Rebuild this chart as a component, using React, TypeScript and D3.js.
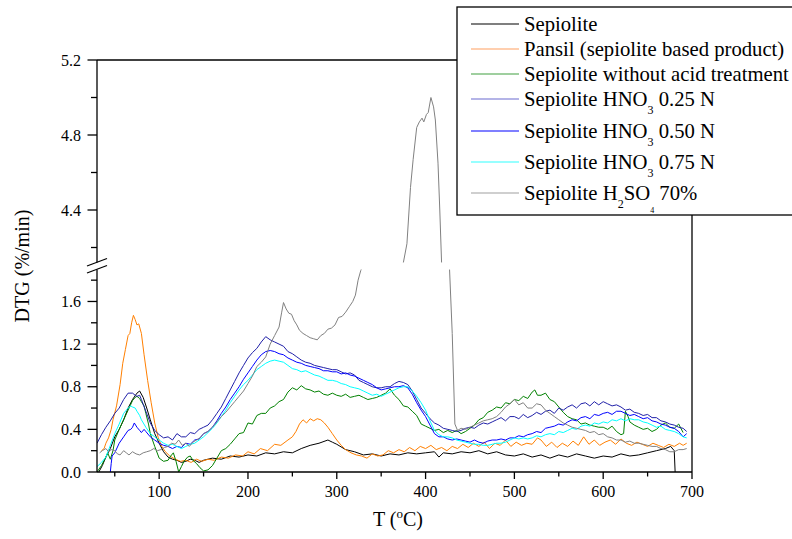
import React from 'react';
import * as d3 from 'd3';

// ---------- data (T in °C, DTG in %/min) ----------
const sepiolite: [number, number][] = [[32,0],[36,0.06],[40,0.14],[45,0.22],[50,0.33],[55,0.4],[60,0.49],[65,0.6],[70,0.68],[75,0.74],[78,0.76],[82,0.7],[86,0.6],[90,0.49],[95,0.36],[100,0.27],[105,0.19],[110,0.14],[115,0.12],[120,0.11],[125,0.09],[130,0.1],[135,0.12],[140,0.11],[145,0.09],[150,0.11],[160,0.13],[170,0.12],[180,0.15],[190,0.14],[200,0.16],[210,0.15],[220,0.18],[230,0.17],[240,0.19],[250,0.18],[260,0.22],[270,0.25],[280,0.27],[290,0.3],[295,0.28],[300,0.26],[310,0.21],[320,0.19],[330,0.16],[340,0.17],[350,0.15],[360,0.17],[370,0.16],[380,0.18],[390,0.17],[400,0.18],[410,0.19],[415,0.14],[420,0.18],[430,0.17],[440,0.19],[450,0.18],[460,0.2],[470,0.17],[480,0.19],[490,0.16],[500,0.15],[510,0.17],[520,0.14],[530,0.16],[540,0.13],[550,0.16],[560,0.14],[570,0.17],[580,0.15],[590,0.13],[600,0.15],[610,0.14],[620,0.17],[630,0.15],[640,0.16],[650,0.18],[660,0.2],[670,0.22],[676,0.24],[680,0.2],[681,0.0]];

const pansil: [number, number][] = [[35,0.2],[38,0.22],[40,0.27],[43,0.32],[46,0.4],[48,0.49],[52,0.62],[56,0.82],[59,1.02],[62,1.15],[65,1.28],[67,1.3],[69,1.4],[71,1.47],[73,1.43],[75,1.38],[77,1.39],[80,1.3],[83,1.1],[87,0.86],[91,0.65],[95,0.46],[99,0.32],[103,0.24],[107,0.19],[112,0.15],[118,0.12],[124,0.1],[130,0.11],[136,0.09],[142,0.12],[148,0.1],[155,0.12],[162,0.11],[170,0.14],[178,0.13],[186,0.16],[194,0.15],[200,0.19],[207,0.17],[214,0.22],[222,0.2],[230,0.26],[237,0.25],[245,0.3],[250,0.33],[254,0.38],[258,0.45],[262,0.49],[266,0.46],[270,0.5],[274,0.48],[278,0.5],[282,0.49],[286,0.46],[290,0.42],[295,0.36],[300,0.3],[305,0.25],[310,0.21],[316,0.18],[322,0.16],[328,0.15],[334,0.13],[340,0.17],[346,0.15],[352,0.16],[358,0.2],[364,0.18],[370,0.21],[376,0.19],[382,0.23],[388,0.2],[394,0.24],[400,0.22],[406,0.25],[412,0.21],[418,0.23],[424,0.2],[430,0.24],[436,0.22],[442,0.26],[448,0.23],[454,0.27],[460,0.24],[466,0.28],[472,0.22],[478,0.27],[484,0.25],[490,0.3],[496,0.24],[502,0.28],[508,0.25],[514,0.27],[520,0.26],[526,0.32],[530,0.3],[536,0.24],[542,0.28],[548,0.23],[554,0.27],[560,0.24],[566,0.29],[572,0.25],[578,0.33],[584,0.26],[590,0.3],[596,0.25],[602,0.28],[608,0.3],[614,0.26],[620,0.31],[626,0.27],[632,0.25],[638,0.28],[644,0.26],[650,0.24],[656,0.27],[662,0.25],[668,0.23],[674,0.26],[680,0.24],[686,0.27],[690,0.25],[694,0.27]];

const noAcid: [number, number][] = [[30,0],[35,0.06],[40,0.14],[42,0.18],[45,0.12],[48,0.2],[50,0.3],[55,0.4],[60,0.49],[65,0.58],[70,0.67],[73,0.7],[75,0.71],[78,0.69],[80,0.66],[83,0.62],[85,0.55],[88,0.45],[90,0.36],[95,0.24],[100,0.13],[105,0.1],[110,0.11],[113,0.15],[116,0.18],[119,0.1],[122,0.0],[125,0.05],[128,0.1],[132,0.14],[135,0.15],[138,0.11],[142,0.08],[146,0.04],[150,0.01],[155,0.02],[160,0.06],[165,0.13],[170,0.2],[175,0.22],[180,0.26],[185,0.31],[190,0.36],[195,0.37],[200,0.46],[205,0.45],[210,0.53],[215,0.55],[220,0.55],[225,0.6],[230,0.62],[235,0.66],[240,0.68],[245,0.75],[250,0.79],[255,0.77],[260,0.81],[265,0.78],[270,0.77],[275,0.75],[280,0.76],[285,0.73],[290,0.72],[295,0.74],[300,0.72],[305,0.71],[310,0.73],[315,0.7],[320,0.71],[325,0.72],[330,0.7],[335,0.68],[340,0.69],[345,0.7],[350,0.72],[355,0.74],[360,0.78],[365,0.72],[370,0.68],[375,0.62],[380,0.61],[385,0.57],[390,0.53],[395,0.45],[400,0.43],[405,0.41],[410,0.39],[415,0.4],[420,0.37],[425,0.39],[430,0.37],[435,0.39],[440,0.36],[445,0.38],[450,0.41],[455,0.44],[460,0.49],[465,0.51],[470,0.56],[475,0.58],[480,0.61],[485,0.6],[490,0.65],[495,0.64],[500,0.68],[505,0.67],[510,0.71],[515,0.69],[520,0.75],[523,0.77],[526,0.72],[530,0.72],[535,0.74],[540,0.68],[545,0.66],[550,0.61],[555,0.56],[560,0.52],[565,0.5],[570,0.49],[575,0.45],[580,0.46],[585,0.44],[590,0.43],[595,0.42],[600,0.42],[605,0.4],[610,0.43],[615,0.38],[620,0.35],[623,0.36],[625,0.57],[628,0.52],[630,0.47],[635,0.44],[640,0.42],[645,0.4],[650,0.41],[655,0.38],[660,0.4],[665,0.44],[670,0.46],[675,0.42],[680,0.41],[685,0.45],[690,0.37]];

const hno025: [number, number][] = [[30,0.27],[35,0.35],[40,0.42],[45,0.48],[50,0.55],[55,0.6],[60,0.68],[65,0.74],[70,0.74],[73,0.72],[75,0.71],[78,0.72],[80,0.68],[85,0.57],[90,0.46],[95,0.39],[100,0.35],[105,0.32],[110,0.33],[115,0.3],[120,0.36],[125,0.33],[130,0.33],[135,0.37],[140,0.36],[145,0.4],[150,0.42],[155,0.44],[160,0.49],[165,0.55],[170,0.61],[175,0.69],[180,0.77],[185,0.85],[190,0.93],[195,1.0],[200,1.07],[205,1.12],[210,1.16],[215,1.22],[220,1.27],[225,1.24],[230,1.22],[235,1.2],[240,1.18],[245,1.13],[250,1.11],[255,1.08],[260,1.05],[265,1.03],[270,1.02],[275,1.0],[280,0.99],[285,0.98],[290,0.97],[295,0.96],[300,0.96],[305,0.94],[310,0.92],[315,0.93],[320,0.91],[325,0.86],[330,0.84],[335,0.82],[340,0.8],[345,0.79],[350,0.79],[355,0.8],[360,0.8],[365,0.83],[370,0.85],[375,0.84],[380,0.82],[385,0.76],[390,0.68],[395,0.6],[400,0.55],[405,0.5],[410,0.46],[415,0.44],[420,0.41],[425,0.4],[430,0.39],[435,0.38],[440,0.39],[445,0.41],[450,0.42],[455,0.41],[460,0.44],[465,0.46],[470,0.45],[475,0.47],[480,0.49],[485,0.51],[490,0.48],[495,0.52],[500,0.52],[505,0.5],[510,0.54],[515,0.51],[520,0.53],[525,0.56],[530,0.54],[535,0.57],[540,0.58],[545,0.55],[550,0.6],[555,0.58],[560,0.61],[565,0.63],[570,0.6],[575,0.64],[580,0.65],[585,0.62],[590,0.66],[595,0.63],[600,0.66],[605,0.64],[610,0.62],[615,0.63],[620,0.61],[625,0.58],[630,0.59],[635,0.56],[640,0.55],[645,0.53],[650,0.54],[655,0.51],[660,0.51],[665,0.48],[670,0.47],[675,0.45],[680,0.44],[685,0.42],[690,0.41],[694,0.38]];

const hno050: [number, number][] = [[45,0],[46,0.08],[47,0.15],[50,0.18],[55,0.27],[60,0.33],[65,0.39],[68,0.4],[70,0.42],[72,0.46],[75,0.42],[78,0.39],[80,0.37],[83,0.4],[85,0.38],[90,0.33],[95,0.3],[100,0.27],[105,0.25],[110,0.24],[115,0.22],[120,0.24],[125,0.23],[130,0.27],[135,0.26],[140,0.3],[145,0.31],[150,0.36],[155,0.38],[160,0.42],[165,0.48],[170,0.55],[175,0.61],[180,0.68],[185,0.74],[190,0.8],[195,0.87],[200,0.93],[205,0.99],[210,1.05],[215,1.1],[220,1.13],[225,1.14],[230,1.13],[235,1.11],[240,1.1],[245,1.07],[250,1.05],[255,1.03],[260,1.02],[265,1.0],[270,0.99],[275,0.98],[280,0.97],[285,0.95],[290,0.95],[295,0.94],[300,0.94],[305,0.92],[310,0.93],[315,0.91],[320,0.9],[325,0.88],[330,0.86],[335,0.84],[340,0.82],[345,0.79],[350,0.77],[355,0.78],[360,0.79],[365,0.8],[370,0.8],[375,0.81],[380,0.79],[385,0.73],[390,0.65],[395,0.58],[400,0.52],[405,0.44],[410,0.36],[415,0.33],[420,0.33],[425,0.31],[430,0.3],[435,0.31],[440,0.3],[445,0.29],[450,0.28],[455,0.3],[460,0.28],[465,0.27],[470,0.29],[475,0.3],[480,0.3],[485,0.31],[490,0.3],[495,0.32],[500,0.32],[505,0.34],[510,0.33],[515,0.35],[520,0.36],[525,0.38],[530,0.37],[535,0.41],[540,0.42],[545,0.43],[550,0.45],[555,0.44],[560,0.47],[565,0.49],[570,0.48],[575,0.51],[580,0.52],[585,0.5],[590,0.54],[595,0.53],[600,0.55],[605,0.56],[610,0.54],[615,0.57],[620,0.57],[625,0.55],[630,0.53],[635,0.54],[640,0.52],[645,0.5],[650,0.51],[655,0.48],[660,0.47],[665,0.45],[670,0.44],[675,0.42],[680,0.41],[685,0.38],[690,0.33],[694,0.36]];

const hno075: [number, number][] = [[30,0.05],[35,0.09],[40,0.14],[45,0.25],[50,0.36],[55,0.45],[60,0.55],[65,0.6],[68,0.62],[70,0.61],[73,0.6],[75,0.57],[78,0.53],[80,0.49],[85,0.42],[90,0.36],[95,0.33],[100,0.3],[105,0.27],[110,0.25],[115,0.26],[120,0.24],[125,0.22],[130,0.24],[135,0.26],[140,0.27],[145,0.3],[150,0.33],[155,0.37],[160,0.41],[165,0.46],[170,0.52],[175,0.58],[180,0.65],[185,0.71],[190,0.77],[195,0.82],[200,0.86],[205,0.91],[210,0.96],[215,0.99],[220,1.02],[225,1.04],[230,1.05],[235,1.04],[240,1.03],[245,1.0],[250,0.97],[255,0.96],[260,0.94],[265,0.95],[270,0.93],[275,0.91],[280,0.9],[285,0.88],[290,0.86],[295,0.86],[300,0.85],[305,0.83],[310,0.82],[315,0.8],[320,0.79],[325,0.78],[330,0.76],[335,0.74],[340,0.72],[345,0.73],[350,0.71],[355,0.73],[360,0.75],[365,0.77],[370,0.79],[375,0.8],[380,0.8],[385,0.76],[390,0.71],[395,0.65],[400,0.58],[405,0.48],[410,0.39],[415,0.35],[420,0.33],[425,0.33],[430,0.32],[435,0.3],[440,0.29],[445,0.28],[450,0.27],[455,0.26],[460,0.26],[465,0.25],[470,0.25],[475,0.26],[480,0.27],[485,0.27],[490,0.28],[495,0.3],[500,0.32],[505,0.31],[510,0.32],[515,0.31],[520,0.32],[525,0.34],[530,0.33],[535,0.35],[540,0.36],[545,0.35],[550,0.38],[555,0.37],[560,0.39],[565,0.41],[570,0.4],[575,0.43],[580,0.44],[585,0.43],[590,0.46],[595,0.45],[600,0.47],[605,0.46],[610,0.49],[615,0.48],[620,0.5],[625,0.48],[630,0.5],[635,0.49],[640,0.49],[645,0.47],[650,0.46],[655,0.44],[660,0.42],[665,0.43],[670,0.4],[675,0.39],[680,0.38],[685,0.36],[690,0.33],[694,0.32]];

const h2so4: [number, number][] = [[33,0.18],[36,0.2],[40,0.22],[43,0.19],[46,0.21],[50,0.2],[53,0.17],[56,0.16],[60,0.2],[63,0.18],[66,0.16],[70,0.19],[74,0.17],[78,0.16],[82,0.18],[86,0.19],[90,0.2],[94,0.22],[98,0.2],[102,0.21],[106,0.23],[110,0.24],[114,0.27],[118,0.26],[122,0.3],[126,0.25],[130,0.27],[134,0.24],[138,0.28],[142,0.3],[146,0.32],[150,0.36],[155,0.38],[160,0.42],[165,0.47],[170,0.52],[175,0.56],[180,0.61],[185,0.66],[190,0.71],[195,0.76],[200,0.83],[205,0.9],[210,0.99],[215,1.03],[220,1.08],[225,1.2],[230,1.28],[235,1.36],[238,1.5],[240,1.59],[243,1.53],[246,1.49],[249,1.48],[252,1.42],[255,1.38],[258,1.33],[262,1.3],[266,1.28],[270,1.26],[274,1.25],[278,1.24],[282,1.28],[286,1.3],[290,1.34],[294,1.35],[298,1.38],[302,1.45],[306,1.46],[310,1.5],[314,1.55],[318,1.6],[321,1.66],[324,1.8],[327,1.89],[330,1.95],[345,2.4],[360,3.0],[372,3.8],[375,4.12],[379,4.22],[383,4.52],[386,4.67],[390,4.84],[393,4.87],[396,4.89],[398,4.87],[401,4.91],[403,4.92],[406,5.0],[409,4.95],[411,4.88],[414,4.65],[416,4.4],[418,4.12],[422,3.2],[427,1.9],[430,1.3],[433,0.45],[436,0.39],[440,0.41],[445,0.4],[450,0.42],[455,0.44],[460,0.46],[465,0.48],[470,0.49],[475,0.5],[480,0.52],[485,0.56],[490,0.61],[495,0.64],[500,0.68],[505,0.63],[510,0.65],[515,0.6],[520,0.6],[525,0.64],[530,0.63],[535,0.58],[540,0.55],[545,0.52],[550,0.49],[555,0.46],[560,0.44],[565,0.42],[570,0.41],[575,0.4],[580,0.39],[585,0.37],[590,0.38],[595,0.35],[600,0.36],[605,0.33],[610,0.32],[615,0.3],[620,0.3],[625,0.28],[630,0.29],[635,0.27],[640,0.27],[645,0.26],[650,0.25],[655,0.24],[660,0.24],[665,0.22],[670,0.21],[675,0.19],[680,0.19],[685,0.21],[690,0.21],[694,0.22]];

const seriesData = [sepiolite, pansil, noAcid, hno025, hno050, hno075, h2so4];
const seriesColors = ['#000000', '#FF7F00', '#008000', '#2020A8', '#0000FF', '#00FFFF', '#808080'];
const legendColors = ['#000000', '#FFA060', '#40A040', '#6A6AD0', '#0000FF', '#30FFFF', '#A0A0A0'];

// legend label segments: [text, kind] kind: 'n' normal, 's' subscript, 't' tiny subscript
const legendLabels: [string, string][][] = [
  [['Sepiolite', 'n']],
  [['Pansil (sepiolite based product)', 'n']],
  [['Sepiolite without acid treatment', 'n']],
  [['Sepiolite HNO', 'n'], ['3', 's'], [' 0.25 N', 'n']],
  [['Sepiolite HNO', 'n'], ['3', 's'], [' 0.50 N', 'n']],
  [['Sepiolite HNO', 'n'], ['3', 's'], [' 0.75 N', 'n']],
  [['Sepiolite H', 'n'], ['2', 's'], ['SO', 'n'], ['4', 't'], [' 70%', 'n']],
];
const legendRowY = [24, 49, 74, 99, 131, 162, 193];

const xMajor = [100, 200, 300, 400, 500, 600, 700];
const xMinor = [50, 150, 250, 350, 450, 550, 650];
const yLowMajor = [0, 0.4, 0.8, 1.2, 1.6];
const yLowMinor = [0.2, 0.6, 1.0, 1.4, 1.8];
const yHighMajor = [4.4, 4.8, 5.2];
const yHighMinor = [4.2, 4.6, 5.0];

// ---------- layout ----------
const W = 792, H = 539;
const PX0 = 97, PX1 = 692;
const LOW_TOP = 269.5, LOW_BOT = 472;
const HIGH_TOP = 60, HIGH_BOT = 262.5;
const LEG_FS = 20.7;

const x = d3.scaleLinear().domain([30, 700]).range([PX0, PX1]);
const yLow = d3.scaleLinear().domain([0, 1.9]).range([LOW_BOT, LOW_TOP]);
const yHigh = d3.scaleLinear().domain([4.12, 5.2]).range([HIGH_BOT, HIGH_TOP]);

const FONT = '"Liberation Serif", "Times New Roman", serif';
const fmt = d3.format('.1f');

export default function App() {
  const lineLow = d3.line<[number, number]>().x(d => x(d[0])).y(d => yLow(d[1]));
  const lineHigh = d3.line<[number, number]>().x(d => x(d[0])).y(d => yHigh(d[1]));

  return (
    <svg width={W} height={H} style={{ position: 'absolute', left: 0, top: 0, background: '#fff' }} fontFamily={FONT}>
      <defs>
        <clipPath id="clipLow"><rect x={PX0} y={LOW_TOP} width={PX1 - PX0} height={LOW_BOT - LOW_TOP} /></clipPath>
        <clipPath id="clipHigh"><rect x={PX0} y={HIGH_TOP} width={PX1 - PX0} height={HIGH_BOT - HIGH_TOP} /></clipPath>
      </defs>
      <rect x={0} y={0} width={W} height={H} fill="#fff" />

      {/* curves */}
      <g clipPath="url(#clipLow)">
        {seriesData.map((s, i) => (
          <path key={i} d={lineLow(s) || ''} fill="none" stroke={seriesColors[i]} strokeWidth={1} />
        ))}
      </g>
      <g clipPath="url(#clipHigh)">
        {seriesData.map((s, i) => (
          <path key={i} d={lineHigh(s) || ''} fill="none" stroke={seriesColors[i]} strokeWidth={1} />
        ))}
      </g>

      {/* axes lines */}
      <g stroke="#000" strokeWidth={1.3} fill="none">
        <line x1={PX0} x2={PX1} y1={HIGH_TOP} y2={HIGH_TOP} />
        <line x1={PX1} x2={PX1} y1={HIGH_TOP} y2={LOW_BOT} />
        <line x1={PX0} x2={PX1} y1={LOW_BOT} y2={LOW_BOT} />
        <line x1={PX0} x2={PX0} y1={HIGH_TOP} y2={HIGH_BOT} />
        <line x1={PX0} x2={PX0} y1={LOW_TOP} y2={LOW_BOT} />
        {/* break marks */}
        <line x1={PX0 - 10} x2={PX0 + 10} y1={HIGH_BOT + 3.5} y2={HIGH_BOT - 4} />
        <line x1={PX0 - 10} x2={PX0 + 10} y1={LOW_TOP + 3.5} y2={LOW_TOP - 4} />
      </g>

      {/* x ticks */}
      <g stroke="#000" strokeWidth={1.3}>
        {xMajor.map(t => <line key={'xM' + t} x1={x(t)} x2={x(t)} y1={LOW_BOT} y2={LOW_BOT + 7} />)}
        {xMinor.map(t => <line key={'xm' + t} x1={x(t)} x2={x(t)} y1={LOW_BOT} y2={LOW_BOT + 4.5} />)}
      </g>
      {xMajor.map(t => (
        <text key={'xl' + t} x={x(t)} y={497} fontSize={16} textAnchor="middle" fill="#000">{t}</text>
      ))}

      {/* y ticks */}
      <g stroke="#000" strokeWidth={1.3}>
        {yLowMajor.map(t => <line key={'yLM' + t} x1={PX0 - 9.5} x2={PX0} y1={yLow(t)} y2={yLow(t)} />)}
        {yLowMinor.map(t => <line key={'yLm' + t} x1={PX0 - 6} x2={PX0} y1={yLow(t)} y2={yLow(t)} />)}
        {yHighMajor.map(t => <line key={'yHM' + t} x1={PX0 - 9.5} x2={PX0} y1={yHigh(t)} y2={yHigh(t)} />)}
        {yHighMinor.map(t => <line key={'yHm' + t} x1={PX0 - 6} x2={PX0} y1={yHigh(t)} y2={yHigh(t)} />)}
      </g>
      {yLowMajor.map(t => (
        <text key={'yLl' + t} x={81} y={yLow(t) + 5.5} fontSize={16} textAnchor="end" fill="#000">{fmt(t)}</text>
      ))}
      {yHighMajor.map(t => (
        <text key={'yHl' + t} x={81} y={yHigh(t) + 5.5} fontSize={16} textAnchor="end" fill="#000">{fmt(t)}</text>
      ))}

      {/* axis titles */}
      <text x={398} y={526} fontSize={20} textAnchor="middle" fill="#000">
        T (<tspan fontSize={13} dy={-8}>o</tspan><tspan dy={8}>C)</tspan>
      </text>
      <text transform="translate(29,266) rotate(-90)" fontSize={20} textAnchor="middle" fill="#000">DTG (%/min)</text>

      {/* legend */}
      <rect x={457} y={7} width={400} height={208} fill="#fff" stroke="#000" strokeWidth={1.3} />
      {legendLabels.map((segs, i) => (
        <g key={'lg' + i}>
          <line x1={471} x2={519} y1={legendRowY[i]} y2={legendRowY[i]} stroke={legendColors[i]} strokeWidth={1.2} />
          <text x={524} y={legendRowY[i] + 7} fontSize={LEG_FS} fill="#000">
            {segs.map(([t, k], j) => {
              const prev = j > 0 ? segs[j - 1][1] : 'n';
              let dy = 0;
              if (k === 's') dy = 8; else if (k === 't') dy = 13;
              if (prev === 's') dy -= 8; else if (prev === 't') dy -= 13;
              const fs = k === 's' ? 12 : k === 't' ? 8 : LEG_FS;
              return <tspan key={j} dy={dy} fontSize={fs}>{t}</tspan>;
            })}
          </text>
        </g>
      ))}
    </svg>
  );
}
